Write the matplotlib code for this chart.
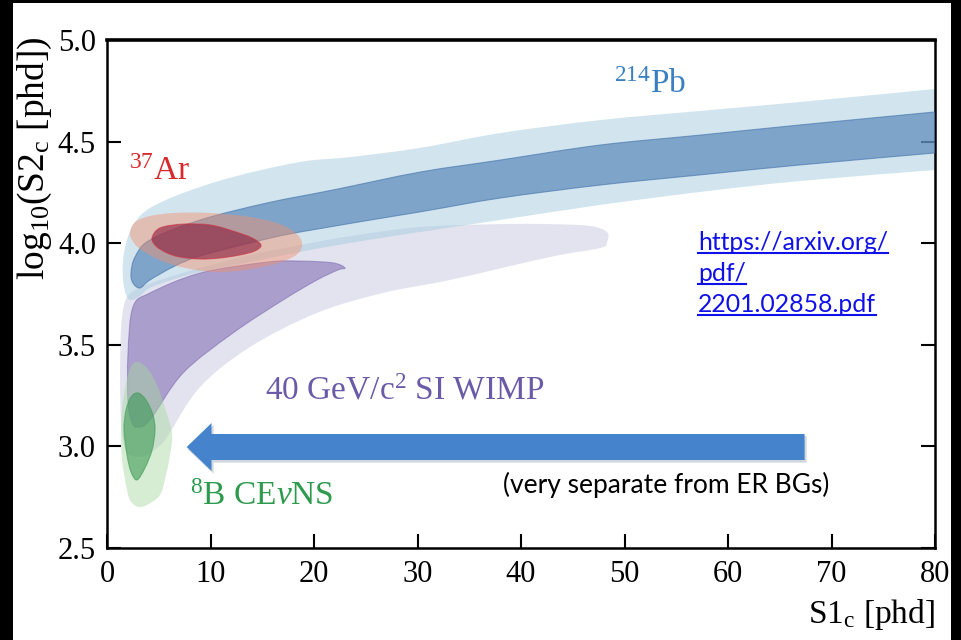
"""LZ signal/background bands in log10(S2c) vs S1c."""

import matplotlib
matplotlib.use("Agg")
import matplotlib.pyplot as plt
from matplotlib.patches import PathPatch, Rectangle, FancyArrow
from matplotlib.path import Path
from matplotlib.lines import Line2D

plt.rcParams["font.family"] = ["Liberation Serif", "DejaVu Serif"]
plt.rcParams["mathtext.fontset"] = "custom"
plt.rcParams["mathtext.rm"] = "Liberation Serif"
plt.rcParams["mathtext.it"] = "Liberation Serif:italic"

# 214Pb, 2 sigma band (closed contour: upper edge right->left, lower edge left->right)
pb_outer_x = [80.0, 66.96, 57.29, 47.63, 37.97, 30.24, 23.48, 18.65, 12.17, 7.34, 4.15, 2.71,
              1.93, 1.55, 1.55, 1.84, 2.32, 3.19, 4.15, 6.57, 8.99, 13.82, 18.65, 23.48, 30.24,
              37.97, 47.63, 57.29, 66.96, 80.0]
pb_outer_y = [4.759, 4.695, 4.651, 4.606, 4.542, 4.469, 4.424, 4.400, 4.326, 4.247, 4.173, 4.104,
              4.016, 3.917, 3.819, 3.745, 3.720, 3.740, 3.780, 3.824, 3.858, 3.907, 3.957, 4.001,
              4.055, 4.114, 4.188, 4.252, 4.306, 4.360]

# 214Pb, 1 sigma band
pb_inner_x = [80.0, 66.96, 57.29, 47.63, 37.97, 30.24, 21.84, 15.46, 8.99, 4.15, 2.71, 2.32,
              2.51, 3.19, 4.15, 6.57, 8.99, 13.82, 18.65, 30.24, 37.97, 47.63, 57.29, 66.96, 80.0]
pb_inner_y = [4.646, 4.582, 4.532, 4.483, 4.409, 4.350, 4.262, 4.198, 4.114, 4.016, 3.932, 3.853,
              3.804, 3.780, 3.819, 3.888, 3.937, 4.001, 4.055, 4.154, 4.222, 4.286, 4.336, 4.385,
              4.444]

# 40 GeV/c^2 SI WIMP, outer contour
wimp_outer_x = [48.31, 46.67, 42.80, 37.97, 30.24, 23.48, 18.65, 13.82, 8.99, 5.12, 2.71, 1.74,
                1.35, 1.26, 1.35, 1.64, 2.22, 3.67, 4.93, 5.80, 8.99, 13.82, 20.29, 26.67, 33.14,
                42.80, 47.63, 48.31]
wimp_outer_y = [4.055, 4.085, 4.094, 4.094, 4.080, 4.035, 3.991, 3.942, 3.878, 3.819, 3.770, 3.711,
                3.573, 3.327, 3.130, 3.007, 2.958, 2.953, 2.997, 3.046, 3.292, 3.489, 3.657, 3.755,
                3.819, 3.932, 3.976, 4.006]

# 40 GeV/c^2 SI WIMP, inner contour
wimp_inner_x = [23.0, 21.84, 18.65, 15.46, 8.99, 4.15, 2.51, 2.03, 2.03, 2.42, 2.90, 4.15, 7.34,
                12.17, 17.0, 20.29, 22.3]
wimp_inner_y = [3.878, 3.903, 3.912, 3.907, 3.853, 3.755, 3.686, 3.460, 3.214, 3.120, 3.095, 3.130,
                3.361, 3.558, 3.720, 3.819, 3.868]

# 37Ar, outer and inner contours
ar_outer_x = [2.22, 2.71, 4.15, 6.57, 9.95, 13.82, 16.71, 18.45, 18.84, 18.16, 16.23, 13.33, 10.43,
              7.54, 5.12, 3.19, 2.42]
ar_outer_y = [4.055, 4.104, 4.134, 4.149, 4.149, 4.129, 4.094, 4.040, 3.986, 3.937, 3.898, 3.868,
              3.858, 3.878, 3.917, 3.971, 4.016]
ar_inner_x = [4.35, 5.12, 7.34, 9.95, 12.17, 14.01, 14.88, 14.30, 12.85, 10.92, 8.99, 7.05, 5.80, 4.73]
ar_inner_y = [4.026, 4.075, 4.094, 4.090, 4.060, 4.026, 3.991, 3.962, 3.942, 3.927, 3.922, 3.932,
              3.952, 3.986]

# 8B CEvNS, outer and inner contours
b8_outer_x = [2.71, 3.86, 4.83, 5.51, 6.28, 6.09, 5.70, 5.12, 3.86, 3.0, 2.22, 1.84, 1.45, 1.35,
              1.55, 2.03]
b8_outer_y = [3.415, 3.386, 3.302, 3.204, 3.066, 2.958, 2.859, 2.761, 2.712, 2.702, 2.736, 2.810,
              2.933, 3.081, 3.228, 3.351]
b8_inner_x = [3.0, 3.77, 4.44, 4.64, 4.35, 3.67, 2.90, 2.32, 1.93, 1.64, 1.84, 2.32]
b8_inner_y = [3.263, 3.228, 3.155, 3.081, 2.982, 2.894, 2.835, 2.874, 2.958, 3.081, 3.179, 3.243]

x_ticks = [0, 10, 20, 30, 40, 50, 60, 70, 80]
y_ticks = [2.5, 3.0, 3.5, 4.0, 4.5, 5.0]

W, H = 961, 640
fig = plt.figure(figsize=(W / 100, H / 100), dpi=100, facecolor="black")
# white page inside the black frame
fig.patches.append(Rectangle((13 / W, 0), (951 - 13) / W, 637 / H,
                             transform=fig.transFigure, facecolor="white",
                             edgecolor="none", zorder=-10))

ax = fig.add_axes([107 / W, 92 / H, 828 / W, 508 / H])
ax.set_xlim(0, 80)
ax.set_ylim(2.5, 5.0)


def smooth_path(xs, ys, open_ends=False):
    # closed contour drawn as Catmull-Rom style cubic segments through the read points
    # (done in pixel space so both axes get the same treatment)
    pts = ax.transData.transform(list(zip(xs, ys)))
    n = len(pts)
    verts = [pts[0]]
    codes = [Path.MOVETO]
    for i in range(n):
        p0, p1, p2, p3 = pts[i - 1], pts[i], pts[(i + 1) % n], pts[(i + 2) % n]
        if open_ends and (i == n - 1):
            verts.append(p2)
            codes.append(Path.LINETO)
            continue
        if open_ends and i == 0:
            p0 = p1
        if open_ends and i == n - 2:
            p3 = p2
        c1 = p1 + (p2 - p0) / 6.0
        c2 = p2 - (p3 - p1) / 6.0
        verts += [c1, c2, p2]
        codes += [Path.CURVE4] * 3
    verts = ax.transData.inverted().transform(verts)
    return Path(verts, codes)


def band(xs, ys, face, alpha, edge, z, lw=0.8, open_ends=False):
    ax.add_patch(PathPatch(smooth_path(xs, ys, open_ends), facecolor=face, alpha=alpha,
                           edgecolor=edge, linewidth=lw, zorder=z))


band(wimp_outer_x, wimp_outer_y, "#c8c8e0", 0.5, "none", 1)
band(pb_outer_x, pb_outer_y, "#a6cde0", 0.5, "none", 2, open_ends=True)
band(pb_inner_x, pb_inner_y, "#487ab2", 0.6, "#3f6fa8", 3, open_ends=True)
band(wimp_inner_x, wimp_inner_y, "#7b66b0", 0.55, "#7a68b0", 4)
band(b8_outer_x, b8_outer_y, "#a6d89e", 0.45, "none", 5)
band(b8_inner_x, b8_inner_y, "#3d9a55", 0.6, "#3d9a55", 6)
band(ar_outer_x, ar_outer_y, "#f3906c", 0.45, "none", 7)
band(ar_inner_x, ar_inner_y, "#8a1838", 0.6, "#d03040", 8)

# arrow pointing to the NR region
ax.add_patch(FancyArrow(67.6, 2.985, -59.8, 0, width=0.13, head_width=0.24, head_length=2.5,
                        length_includes_head=True, facecolor="#8090a8", edgecolor="none",
                        alpha=0.35, zorder=9))
ax.add_patch(FancyArrow(67.4, 2.997, -59.7, 0, width=0.128, head_width=0.236, head_length=2.4,
                        length_includes_head=True, facecolor="#4584cc", edgecolor="none",
                        zorder=10))

# labels on the plot
ax.text(52.5, 4.78, r"$\mathregular{^{214}}$Pb", color="#3a80c0", fontsize=24,
        ha="center", va="center")
ax.text(5.1, 4.35, r"$\mathregular{^{37}}$Ar", color="#d8282c", fontsize=24,
        ha="center", va="center")
ax.text(28.8, 3.27, r"40 GeV/c$\mathregular{^{2}}$ SI WIMP", color="#6a5aa8", fontsize=24,
        ha="center", va="center")
ax.text(14.9, 2.75, r"$\mathregular{^{8}}$B CE$\nu$NS", color="#2e9a4e", fontsize=24,
        ha="center", va="center")

# axes styling
ax.set_xticks(x_ticks)
ax.set_yticks(y_ticks)
ax.set_xticklabels([str(v) for v in x_ticks])
ax.set_yticklabels([f"{v:.1f}" for v in y_ticks])
ax.tick_params(axis="both", direction="in", length=10, width=1.5, labelsize=22, color="black")
ax.tick_params(axis="x", pad=9)
ax.tick_params(axis="y", pad=8, right=True)
for s in ax.spines.values():
    s.set_linewidth(1.8)
ax.spines["top"].set_linewidth(2.6)

fig.text(935 / W, 1 - 615 / H, r"S1$_{\mathregular{c}}$ [phd]", fontsize=24,
         ha="right", va="center")
fig.text(35 / W, 1 - 36 / H, r"log$_{\mathregular{10}}$(S2$_{\mathregular{c}}$ [phd])",
         fontsize=27, rotation=90, ha="center", va="top")

# link and note (slide text)
url_lines = ["https://arxiv.org/", "pdf/", "2201.02858.pdf"]
url_base = [250, 281, 312]
url_texts = []
for line, yb in zip(url_lines, url_base):
    url_texts.append(fig.text(698 / W, 1 - yb / H, line, fontsize=17.8, family="Lato",
                              color="#1010e8", ha="left", va="baseline"))
fig.text(503 / W, 1 - 493 / H, "(very separate from ER BGs)", fontsize=19, family="Lato",
         color="black", ha="left", va="baseline")

fig.canvas.draw()
renderer = fig.canvas.get_renderer()
for t, yb in zip(url_texts, url_base):
    bb = t.get_window_extent(renderer)
    yy = 1 - (yb + 3) / H
    fig.add_artist(Line2D([bb.x0 / W, bb.x1 / W], [yy, yy], transform=fig.transFigure,
                          color="#1010e8", linewidth=1.5))

fig.savefig("out.png", dpi=100)
